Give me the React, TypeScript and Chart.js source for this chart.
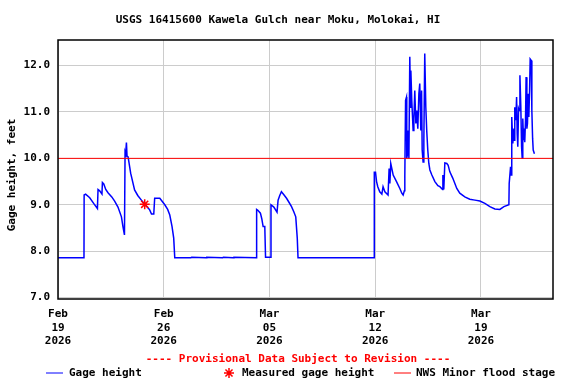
import React, { useEffect, useRef } from 'react';
import { Chart, registerables } from 'chart.js';

Chart.register(...registerables);

// Days since 2026-02-19 00:00 and gage heights (feet)
const times = [
  0.00, 1.72, 1.73, 1.83, 2.10, 2.36, 2.61, 2.65, 2.76, 2.91, 2.94, 3.03, 3.16, 3.31, 3.56, 3.75, 3.97, 4.20, 4.30, 4.40,
  4.44, 4.48, 4.53, 4.57, 4.64, 4.81, 5.07, 5.28, 5.52, 5.74, 5.94, 6.07, 6.19, 6.34, 6.40, 6.74, 7.07, 7.26, 7.40, 7.55,
  7.66, 7.73, 8.80, 8.85, 9.80, 9.85, 10.90, 10.95, 11.60, 11.65, 13.14, 13.15, 13.23, 13.40, 13.49, 13.58, 13.69, 13.74, 14.09, 14.10,
  14.29, 14.50, 14.57, 14.68, 14.79, 14.94, 15.13, 15.28, 15.46, 15.61, 15.74, 15.84, 15.89, 20.93, 20.94, 21.02, 21.09, 21.17, 21.30, 21.44,
  21.52, 21.64, 21.85, 21.92, 21.97, 22.03, 22.19, 22.41, 22.63, 22.76, 22.85, 22.93, 22.96, 23.01, 23.07, 23.09, 23.14, 23.18, 23.23, 23.29,
  23.34, 23.36, 23.42, 23.51, 23.56, 23.62, 23.69, 23.75, 23.82, 23.89, 23.95, 24.02, 24.07, 24.11, 24.17, 24.22, 24.28, 24.35, 24.41, 24.48,
  24.55, 24.62, 24.75, 24.95, 25.15, 25.28, 25.46, 25.48, 25.54, 25.61, 25.74, 25.83, 25.94, 26.14, 26.40, 26.60, 26.93, 27.26, 27.60, 27.93,
  28.26, 28.59, 28.92, 29.25, 29.52, 29.85, 29.87, 29.96, 30.00, 30.03, 30.05, 30.11, 30.18, 30.22, 30.24, 30.31, 30.36, 30.40, 30.44, 30.49,
  30.53, 30.58, 30.64, 30.69, 30.73, 30.77, 30.82, 30.86, 30.90, 30.95, 30.99, 31.04, 31.08, 31.13, 31.17, 31.22, 31.26, 31.33, 31.37, 31.42,
  31.46, 31.54,
];
const heights = [
  7.86, 7.86, 9.21, 9.23, 9.15, 9.03, 8.92, 9.33, 9.30, 9.23, 9.48, 9.45, 9.33, 9.26, 9.17, 9.08, 8.95, 8.74, 8.53, 8.35,
  10.14, 10.10, 10.34, 10.05, 10.03, 9.68, 9.32, 9.20, 9.10, 9.01, 8.94, 8.89, 8.80, 8.80, 9.14, 9.14, 9.00, 8.90, 8.78, 8.53,
  8.28, 7.86, 7.86, 7.87, 7.86, 7.87, 7.86, 7.87, 7.86, 7.87, 7.86, 8.90, 8.88, 8.82, 8.70, 8.53, 8.53, 7.87, 7.87, 9.00,
  8.95, 8.84, 9.10, 9.20, 9.28, 9.22, 9.14, 9.06, 8.96, 8.85, 8.74, 8.28, 7.86, 7.86, 9.70, 9.70, 9.50, 9.39, 9.28, 9.23,
  9.39, 9.28, 9.21, 9.78, 9.46, 9.89, 9.64, 9.50, 9.35, 9.25, 9.21, 9.30, 9.60, 11.25, 11.32, 10.00, 10.10, 10.60, 10.00, 12.19,
  11.10, 11.89, 11.25, 10.60, 10.86, 11.46, 10.75, 11.03, 10.64, 11.39, 11.61, 10.60, 11.46, 10.18, 9.92, 10.39, 12.26, 11.10, 10.60, 10.18,
  9.89, 9.75, 9.64, 9.50, 9.41, 9.39, 9.33, 9.64, 9.33, 9.90, 9.89, 9.85, 9.71, 9.57, 9.35, 9.25, 9.17, 9.12, 9.10, 9.08,
  9.03, 8.96, 8.91, 8.90, 8.96, 9.00, 9.46, 9.82, 9.64, 10.00, 10.89, 10.32, 10.64, 10.39, 11.10, 10.82, 11.32, 10.53, 10.25, 11.07,
  11.03, 11.79, 11.10, 10.25, 10.00, 10.86, 10.39, 10.64, 10.35, 10.82, 11.75, 10.64, 10.75, 11.39, 10.89, 11.46, 12.14, 12.11, 11.03, 10.43,
  10.18, 10.10,
];

const measuredTimes = [5.74];
const measuredHeights = [9.01];

const floodStage = 10.0;

const xMin = 0;
const xMax = 32.77;
const yMin = 6.97;
const yMax = 12.55;

const xTickValues = [0, 7, 14, 21, 28];
const xTickMonths = ['Feb', 'Feb', 'Mar', 'Mar', 'Mar'];
const xTickDays = ['19', '26', '05', '12', '19'];
const xTickYears = ['2026', '2026', '2026', '2026', '2026'];
const yTickValues = [7, 8, 9, 10, 11, 12];

const titleText = 'USGS 16415600 Kawela Gulch near Moku, Molokai, HI';
const yTitleText = 'Gage height, feet';
const provisionalText = '---- Provisional Data Subject to Revision ----';
const legendLabels = ['Gage height', 'Measured gage height', 'NWS Minor flood stage'];

const FONT = '"DejaVu Sans Mono", monospace';
const BLUE = '#0000ff';
const RED = '#ff0000';

function drawStar(ctx: CanvasRenderingContext2D, x: number, y: number, r: number) {
  ctx.beginPath();
  for (let i = 0; i < 4; i++) {
    const a = (i * Math.PI) / 4;
    ctx.moveTo(x - r * Math.cos(a), y - r * Math.sin(a));
    ctx.lineTo(x + r * Math.cos(a), y + r * Math.sin(a));
  }
  ctx.stroke();
}

const decorPlugin = {
  id: 'decor',
  afterDraw(chart: any) {
    const ctx: CanvasRenderingContext2D = chart.ctx;
    const { left, top, right, bottom } = chart.chartArea;
    ctx.save();
    // plot frame
    ctx.strokeStyle = '#000';
    ctx.lineWidth = 1.5;
    ctx.strokeRect(left, top, right - left, bottom - top);

    ctx.font = `bold 11px ${FONT}`;
    ctx.textBaseline = 'middle';
    // title
    ctx.fillStyle = '#000';
    ctx.textAlign = 'center';
    ctx.fillText(titleText, 278, 20);

    // y title
    ctx.save();
    ctx.translate(12, 175);
    ctx.rotate(-Math.PI / 2);
    ctx.fillText(yTitleText, 0, 0);
    ctx.restore();

    // provisional
    ctx.fillStyle = RED;
    ctx.fillText(provisionalText, 298, 359);

    // legend
    const ly = 373;
    ctx.textAlign = 'left';
    ctx.strokeStyle = BLUE;
    ctx.lineWidth = 1;
    ctx.beginPath();
    ctx.moveTo(46, ly);
    ctx.lineTo(63, ly);
    ctx.stroke();
    ctx.fillStyle = '#000';
    ctx.fillText(legendLabels[0], 69, ly);

    ctx.strokeStyle = RED;
    ctx.lineWidth = 1.5;
    drawStar(ctx, 229, ly, 5);
    ctx.fillStyle = '#000';
    ctx.fillText(legendLabels[1], 242, ly);

    ctx.strokeStyle = RED;
    ctx.lineWidth = 1;
    ctx.beginPath();
    ctx.moveTo(394, ly);
    ctx.lineTo(411, ly);
    ctx.stroke();
    ctx.fillStyle = '#000';
    ctx.fillText(legendLabels[2], 416, ly);
    ctx.restore();
  },
};

export default function App() {
  const canvasRef = useRef<HTMLCanvasElement | null>(null);

  useEffect(() => {
    const canvas = canvasRef.current;
    if (!canvas) return;
    const gage = times.map((t, i) => ({ x: t, y: heights[i] }));
    const measured = measuredTimes.map((t, i) => ({ x: t, y: measuredHeights[i] }));
    const flood = [
      { x: xMin, y: floodStage },
      { x: xMax, y: floodStage },
    ];
    const chart = new Chart(canvas, {
      type: 'line',
      data: {
        datasets: [
          {
            label: 'NWS Minor flood stage',
            data: flood,
            borderColor: RED,
            borderWidth: 1,
            pointRadius: 0,
            order: 0,
          },
          {
            label: 'Measured gage height',
            data: measured,
            showLine: false,
            borderColor: RED,
            backgroundColor: RED,
            pointStyle: 'star',
            pointRadius: 5,
            pointBorderWidth: 1.5,
            order: 0,
          },
          {
            label: 'Gage height',
            data: gage,
            borderColor: BLUE,
            borderWidth: 1.5,
            pointRadius: 0,
            tension: 0,
            order: 1,
          },
        ],
      },
      options: {
        animation: false,
        responsive: false,
        devicePixelRatio: 1,
        layout: { padding: { top: 40, right: 23, left: 0, bottom: 0 } },
        plugins: {
          legend: { display: false },
          title: { display: false },
          tooltip: { enabled: false },
        },
        scales: {
          x: {
            type: 'linear',
            min: xMin,
            max: xMax,
            afterBuildTicks: (scale: any) => {
              scale.ticks = xTickValues.map((v) => ({ value: v }));
            },
            afterFit: (scale: any) => {
              scale.height = 85;
            },
            grid: { color: '#cccccc', lineWidth: 1, drawTicks: false },
            border: { display: false },
            ticks: {
              color: '#000',
              font: { family: FONT, size: 11, weight: 'bold', lineHeight: 1.2 },
              padding: 9,
              maxRotation: 0,
              autoSkip: false,
              callback: (value: any) => {
                const i = xTickValues.indexOf(Number(value));
                return i >= 0 ? [xTickMonths[i], xTickDays[i], xTickYears[i]] : '';
              },
            },
          },
          y: {
            type: 'linear',
            min: yMin,
            max: yMax,
            afterBuildTicks: (scale: any) => {
              scale.ticks = yTickValues.map((v) => ({ value: v }));
            },
            afterFit: (scale: any) => {
              scale.width = 58;
            },
            grid: { color: '#cccccc', lineWidth: 1, drawTicks: false },
            border: { display: false },
            ticks: {
              color: '#000',
              font: { family: FONT, size: 11, weight: 'bold' },
              padding: 8,
              callback: (value: any) => Number(value).toFixed(1),
            },
          },
        },
      },
      plugins: [decorPlugin],
    } as any);
    return () => chart.destroy();
  }, []);

  return (
    <div style={{ position: 'fixed', left: 0, top: 0, width: 576, height: 384, background: '#fff' }}>
      <canvas ref={canvasRef} width={576} height={384} style={{ display: 'block', width: 576, height: 384 }} />
    </div>
  );
}
